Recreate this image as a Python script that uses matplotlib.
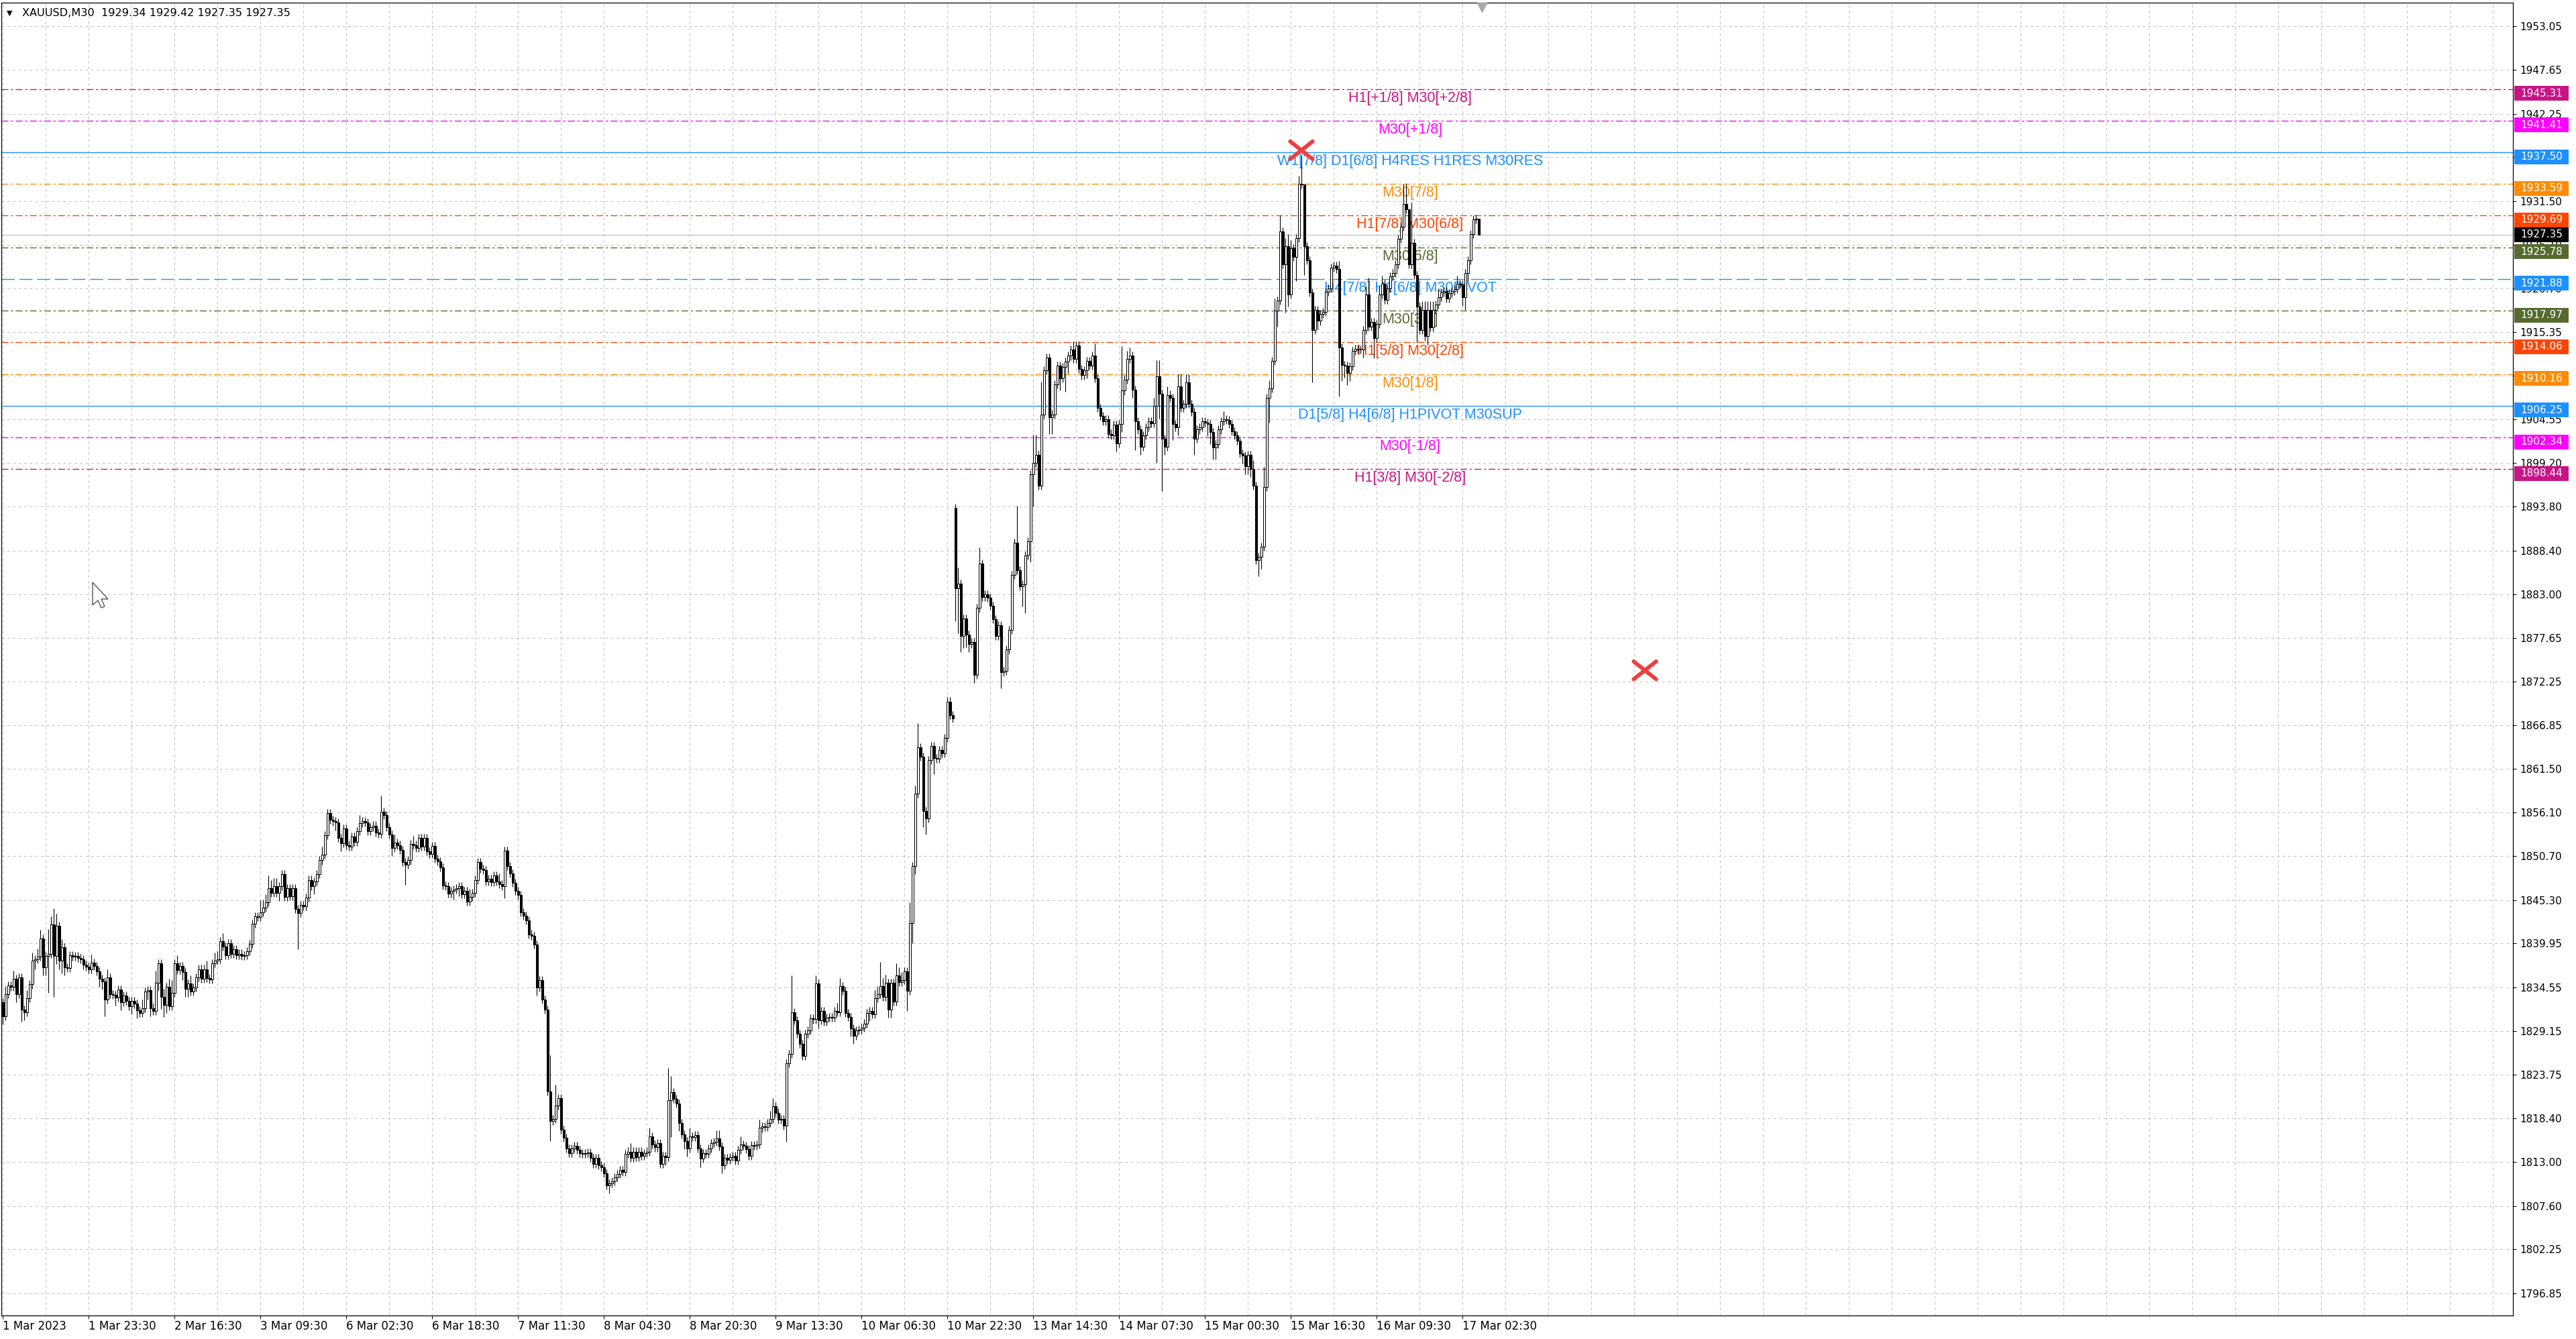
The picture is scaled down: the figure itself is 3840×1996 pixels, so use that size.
import matplotlib
matplotlib.use("Agg")
import matplotlib.pyplot as plt
from matplotlib.patches import Rectangle, Polygon
from matplotlib.transforms import blended_transform_factory
import numpy as np

plt.rcParams['lines.scale_dashes'] = False

# XAUUSD M30 closes
close_a = [
    1831.0, 1833.7, 1834.8, 1834.6, 1835.6, 1833.7, 1835.8, 1831.8, 1831.5, 1833.2,
    1834.9, 1837.8, 1838.0, 1838.3, 1840.6, 1837.0, 1838.4, 1838.7, 1842.3, 1838.4,
    1842.1, 1837.8, 1839.5, 1837.0, 1836.9, 1838.5, 1838.3, 1838.4, 1838.2, 1838.0,
    1837.3, 1837.1, 1836.8, 1837.6, 1837.2, 1836.5, 1835.6, 1835.3, 1833.0, 1835.8,
    1833.7, 1833.6, 1833.3, 1834.3, 1832.7, 1833.5, 1832.9, 1832.2, 1832.9, 1832.5,
    1831.7, 1831.4, 1832.0, 1834.0, 1834.2, 1832.0, 1831.6, 1835.1, 1837.5, 1833.4,
    1832.4, 1834.6, 1832.2, 1833.9, 1837.5, 1836.7, 1837.2, 1836.4, 1834.4, 1835.0,
    1834.0, 1834.5, 1835.8, 1836.8, 1835.6, 1836.8, 1835.7, 1835.5, 1837.5, 1837.8,
    1838.0, 1840.2, 1839.6, 1838.5, 1840.0, 1838.7, 1839.2, 1838.5, 1838.7, 1838.4,
    1838.5, 1839.0, 1839.9, 1842.4, 1843.3, 1843.2, 1843.8, 1844.4, 1845.0, 1846.8,
    1846.2, 1847.0, 1846.2, 1847.0, 1848.5, 1845.7, 1846.8, 1845.8, 1846.8, 1844.2,
    1843.7, 1844.7, 1844.5, 1845.6, 1847.8, 1847.0, 1847.6, 1848.5, 1850.2, 1850.9,
    1853.3, 1856.0, 1855.2, 1855.0, 1854.9, 1853.0, 1852.3, 1854.1, 1852.1, 1851.9,
    1853.1, 1852.5, 1853.8, 1854.8, 1855.0, 1854.9, 1853.8, 1854.3, 1854.5, 1853.6,
    1853.5, 1856.2, 1855.8, 1854.3, 1853.4, 1851.7, 1852.4, 1852.1, 1851.5, 1850.0,
    1849.7, 1850.2, 1852.2, 1852.1, 1851.7, 1853.0, 1851.9, 1853.0, 1851.3, 1851.0,
    1852.0, 1850.4, 1850.1, 1849.3, 1847.1, 1847.0, 1846.1, 1846.4, 1846.6, 1846.8,
    1847.0, 1846.0, 1846.4, 1845.1, 1845.7, 1846.2, 1847.8, 1850.0, 1849.2, 1849.0,
    1847.6, 1847.9, 1847.5, 1848.3, 1847.6, 1847.3, 1847.0, 1851.4, 1849.5, 1848.6,
    1847.4, 1846.4, 1845.9, 1843.8,
]
close_b = [
    1843.4, 1842.8, 1841.1, 1840.9, 1839.8, 1834.5, 1835.4, 1833.0, 1831.8, 1821.7,
    1818.1, 1818.3, 1820.0, 1820.9, 1817.0, 1816.0, 1814.7, 1814.1, 1814.7, 1815.0,
    1814.5, 1814.1, 1814.0, 1814.1, 1814.2, 1813.5, 1812.8, 1813.5, 1812.6, 1812.4,
    1811.6, 1810.1, 1810.4, 1810.6, 1811.1, 1811.5, 1812.0, 1811.8, 1814.0, 1814.3,
    1813.5, 1814.3, 1813.6, 1814.3, 1813.8, 1814.1, 1814.3, 1816.2, 1815.2, 1814.8,
    1815.3, 1812.8, 1813.8, 1813.6, 1820.6, 1821.6, 1820.8, 1820.2, 1817.8, 1816.4,
    1815.6, 1814.7, 1816.2, 1816.1, 1816.3, 1814.7, 1813.4, 1814.1, 1814.0, 1814.7,
    1815.3, 1815.5, 1815.9, 1814.9, 1812.6, 1813.5, 1813.3, 1813.6, 1813.8, 1813.2,
    1814.5, 1815.2, 1815.0, 1814.6, 1813.8, 1815.1, 1815.0, 1815.2, 1817.2, 1817.4,
    1817.3, 1817.8, 1818.3, 1819.9, 1819.1, 1818.2, 1818.3, 1817.5, 1825.2, 1826.3,
    1831.5, 1830.5, 1828.8, 1827.6, 1826.1, 1828.8, 1829.2, 1830.7, 1830.6, 1835.0,
    1830.5, 1831.6, 1830.3, 1830.8, 1830.9, 1830.8, 1831.6, 1831.5, 1834.7, 1834.1,
    1831.4, 1830.9, 1829.5, 1828.6, 1829.2, 1829.3, 1829.6, 1830.1, 1831.4, 1831.6,
    1831.2, 1833.2, 1833.7, 1834.7, 1833.4, 1835.1, 1831.8, 1835.1, 1832.8, 1836.0,
    1835.2, 1835.4, 1836.5, 1834.1, 1842.5, 1849.5, 1858.4, 1864.1, 1863.0, 1856.3,
    1855.4, 1862.6, 1864.3, 1862.8, 1862.7, 1863.8, 1863.4, 1865.3, 1869.8, 1868.1,
    1867.7,
]
close_c = [
    1883.7, 1884.3, 1877.9, 1880.0, 1878.0, 1876.9, 1877.1, 1873.1, 1881.3, 1886.8,
    1882.7, 1883.0, 1882.6, 1881.6, 1879.9, 1877.9, 1879.2, 1873.4, 1873.6, 1876.2,
    1878.6, 1885.4, 1889.4, 1886.0, 1884.0, 1884.2, 1887.8, 1889.5, 1897.8, 1899.2,
    1900.2, 1896.4, 1905.2, 1910.6, 1912.2, 1904.8, 1905.2, 1908.9, 1911.2, 1909.6,
    1911.0, 1911.7, 1912.4, 1913.2, 1912.0, 1913.7, 1910.8, 1910.0, 1910.6, 1911.8,
    1911.2, 1912.4, 1909.6, 1906.0, 1905.0, 1904.3, 1904.6, 1902.8, 1902.6, 1903.9,
    1901.6, 1904.0, 1908.1, 1909.5, 1912.0, 1912.4, 1908.2, 1904.3, 1903.3, 1901.2,
    1902.6, 1903.6, 1904.3, 1904.1, 1906.2, 1909.9, 1907.7, 1902.2, 1901.2, 1907.6,
    1907.2, 1904.0, 1903.6, 1908.6, 1906.0, 1906.5, 1909.1, 1906.5, 1905.5, 1902.2,
    1903.3, 1903.6, 1904.3, 1904.2, 1904.0, 1903.0, 1901.1, 1901.5, 1903.3, 1904.3,
    1904.6, 1904.5, 1904.0, 1903.1, 1902.6, 1901.9, 1900.4, 1900.1, 1898.8, 1900.2,
    1898.5, 1896.4, 1887.2, 1887.6, 1888.9, 1896.2, 1907.2, 1908.4, 1911.8, 1918.0,
]
close_d = [
    1919.2, 1927.7, 1923.7, 1925.9, 1920.0, 1925.7, 1924.6, 1926.9, 1933.6, 1933.5,
    1925.9, 1924.2, 1920.2, 1915.6, 1918.1, 1916.7, 1917.6, 1917.8, 1920.3, 1920.7,
    1923.3, 1923.5, 1923.1, 1913.4, 1911.3, 1911.2, 1910.3, 1911.1, 1913.0, 1913.3,
    1913.2, 1913.2, 1915.6, 1920.0, 1916.0, 1916.6, 1914.6, 1916.3, 1920.0, 1921.3,
    1919.3, 1920.7, 1922.2, 1922.6, 1923.7, 1926.8, 1928.3, 1931.1, 1930.5, 1923.7,
    1926.3, 1922.4, 1918.5, 1915.6, 1918.1, 1914.8, 1918.1, 1915.9, 1918.1, 1918.7,
    1919.6, 1920.2, 1920.4, 1919.5, 1920.1, 1920.4, 1920.6, 1921.3, 1921.2, 1919.6,
    1922.6, 1924.2, 1927.4, 1929.2, 1929.34, 1927.35,
]
first_open = 1832.7
gap_opens = {355: 1893.7}

# wick lengths above / below the body, one base-36 digit per bar, in $0.50 steps
up_wick = "".join([
    "1211211112", "1212211624", "3121111111", "1112111112", "1111111111",
    "1121111311", "2123121111", "2111112112", "2121111111", "1111113223",
    "2221111111", "1111111112", "1111111111", "1112111111", "1411112111",
    "1112111111", "1111111111", "1111211111", "1111121111", "1111111111",
    "1111915111", "1111111111", "1111111111", "1111211111", "1211111184",
    "1111112111", "1111112211", "1111121111", "1121112211", "1111911111",
    "1112111111", "1221111111", "1111122622", "1113221151", "2611111111",
    "1111114111", "1111411111", "1111111191", "1111751811", "1111111112",
    "1111111311", "1111111b12", "2111111112", "4411211133", "1221111111",
    "1111121111", "1111112111", "5121314123", "2112701111", "1111111121",
    "1111111124", "1112211111", "11550a1112", "2222121111", "1121111111",
    "0",
])
dn_wick = "".join([
    "2111121321", "112112291a", "2232111111", "1111112241", "1121211121",
    "2111221123", "3211111222", "1111111111", "1111111111", "1111111111",
    "1112111111", "9111112111", "1111212111", "1111111111", "1111121111",
    "5111111111", "1111111121", "2111111111", "1111111311", "1111111112",
    "1111511111", "1111111111", "1111112111", "1111111111", "1111111219",
    "1121221111", "2111111121", "1111111111", "1111111111", "1141111111",
    "1111211111", "1111112211", "1112111111", "2211111515", "2114411411",
    "111118b433", "2121111111", "1141111111", "5715811111", "4411316311",
    "1111211111", "1111121211", "1271211111", "e6d2114121", "1111411113",
    "3331111111", "1122221143", "11611411c3", "11611711d1", "21111111c4",
    "3321111211", "1511111111", "1111111911", "1211111111", "1111232111",
    "0",
])

date_labels = ["1 Mar 2023", "1 Mar 23:30", "2 Mar 16:30", "3 Mar 09:30", "6 Mar 02:30",
               "6 Mar 18:30", "7 Mar 11:30", "8 Mar 04:30", "8 Mar 20:30", "9 Mar 13:30",
               "10 Mar 06:30", "10 Mar 22:30", "13 Mar 14:30", "14 Mar 07:30", "15 Mar 00:30",
               "15 Mar 16:30", "16 Mar 09:30", "17 Mar 02:30"]
price_ticks = [1796.85, 1802.25, 1807.60, 1813.00, 1818.40, 1823.75, 1829.15, 1834.55,
               1839.95, 1845.30, 1850.70, 1856.10, 1861.50, 1866.85, 1872.25, 1877.65,
               1883.00, 1888.40, 1893.80, 1899.20, 1904.55, 1909.95, 1915.35, 1920.70,
               1926.10, 1931.50, 1936.90, 1942.25, 1947.65, 1953.05]

level_prices = [1945.31, 1941.41, 1937.50, 1933.59, 1929.69, 1925.78, 1921.88,
                1917.97, 1914.06, 1910.16, 1906.25, 1902.34, 1898.44]
level_names = ["H1[+1/8] M30[+2/8]", "M30[+1/8]", "W1[7/8] D1[6/8] H4RES H1RES M30RES",
               "M30[7/8]", "H1[7/8] M30[6/8]", "M30[5/8]", "H4[7/8] H1[6/8] M30PIVOT",
               "M30[3/8]", "H1[5/8] M30[2/8]", "M30[1/8]", "D1[5/8] H4[6/8] H1PIVOT M30SUP",
               "M30[-1/8]", "H1[3/8] M30[-2/8]"]
level_colors = ["#C71585", "#FF00FF", "#1E90FF", "#FF8C00", "#FF4500", "#556B2F", "#1E90FF",
                "#556B2F", "#FF4500", "#FF8C00", "#1E90FF", "#FF00FF", "#C71585"]
level_kinds = ["dd", "dd", "solid", "dd", "dd", "dd", "dash", "dd", "dd", "dd", "solid", "dd", "dd"]

last_price = 1927.35
cross_bars = [484, 612]
cross_prices = [1937.75, 1873.63]

# ---- build candles ----
closes = np.array(close_a + close_b + close_c + close_d)
n = len(closes)
assert len(up_wick) == n and len(dn_wick) == n, (n, len(up_wick), len(dn_wick))
opens = np.empty(n)
opens[0] = first_open
opens[1:] = closes[:-1]
for k, v in gap_opens.items():
    opens[k] = v
up = np.array([int(c, 36) for c in up_wick]) * 0.5
dn = np.array([int(c, 36) for c in dn_wick]) * 0.5
highs = np.maximum(opens, closes) + up
lows = np.minimum(opens, closes) - dn
xs = np.arange(n)

W, H = 3840, 1996
PX = 12.09  # pixels per dollar on the price axis
fig = plt.figure(figsize=(W / 100, H / 100), dpi=100)
fig.patch.set_facecolor("white")
ax = fig.add_axes([2 / W, (H - 1961) / H, 3744 / W, 1957 / H])
ax.set_xlim(-0.5, 935.5)
ax.set_ylim(1794.08, 1955.945)

grid_kw = dict(color="#C4C4C4", lw=0.75, ls=(0, (3, 3)), zorder=0.5)
for b in range(0, 936, 16):
    ax.axvline(b, **grid_kw)
for p in price_ticks:
    ax.axhline(p, **grid_kw)

styles = {"dd": (0, (7.2, 2.9, 2.2, 2.9)), "dash": (0, (14, 5)), "solid": "-"}
for p, name, col, kind in zip(level_prices, level_names, level_colors, level_kinds):
    ax.axhline(p, color=col, lw=1.0, ls=styles[kind], zorder=2)
    ax.text(524.5, p - 0.25, name, color=col, ha="center", va="top",
            fontsize=15.5, family=["Liberation Sans", "DejaVu Sans"], zorder=3)

ax.axhline(last_price, color="#C0C0C0", lw=0.9, zorder=1.8)

ax.vlines(xs, lows, highs, color="black", lw=0.8, zorder=4)
bull = closes >= opens
ax.bar(xs[bull], (closes - opens)[bull], bottom=opens[bull], width=0.75,
       facecolor="white", edgecolor="black", linewidth=0.75, zorder=5)
ax.bar(xs[~bull], (closes - opens)[~bull], bottom=opens[~bull], width=0.75,
       facecolor="black", edgecolor="black", linewidth=0.75, zorder=5)

for bx, py in zip(cross_bars, cross_prices):
    for s in (1, -1):
        ax.plot([bx - 4.2, bx + 4.2], [py + s * 1.1, py - s * 1.1], color="#EE3E3E",
                lw=4.2, solid_capstyle="round", zorder=8)

# axes styling
for sp in ax.spines.values():
    sp.set_color("black")
    sp.set_linewidth(0.9)
ax.yaxis.tick_right()
ax.set_yticks(price_ticks)
ax.set_yticklabels([f"{p:.2f}" for p in price_ticks])
ax.tick_params(axis="y", direction="out", length=3.6, width=0.75, pad=3.6,
               labelsize=11, colors="black")
ax.set_xticks(range(0, 32 * len(date_labels), 32))
ax.set_xticklabels(date_labels, ha="left")
ax.tick_params(axis="x", direction="out", length=3.6, width=0.75, pad=1.5, labelsize=12)

# price tags on the right: level tags sit a few pixels under their line
trans = blended_transform_factory(ax.transAxes, ax.transData)
tags = [(p, c, 6.5) for p, c in zip(level_prices, level_colors)] + [(last_price, "black", 0.0)]
for p, col, drop in tags:
    yc = p - drop / PX
    ax.add_patch(Rectangle((1 + 2 / 3744, yc - 11 / PX), 81 / 3744, 22 / PX,
                           transform=trans, clip_on=False, facecolor=col,
                           edgecolor="none", zorder=10))
    ax.text(1 + 11 / 3744, yc, f"{p:.2f}", transform=trans, color="white", va="center",
            ha="left", fontsize=11, clip_on=False, zorder=11)

# chart shift marker and header
ax.plot([551.25], [1 - 7 / 1957], marker="v", ms=10, color="#A8A8A8",
        transform=blended_transform_factory(ax.transData, ax.transAxes),
        clip_on=False, zorder=12)
fig.text(10 / W, 1 - 20 / H, "\u25BC", fontsize=8, va="center", color="black")
fig.text(33 / W, 1 - 20 / H, "XAUUSD,M30  1929.34 1929.42 1927.35 1927.35",
         fontsize=11.6, va="center", color="black")

# mouse pointer
cur = np.array([(0, 0), (0, 34), (8, 27), (13, 38), (18, 36), (13, 25), (23, 25)], float)
cur[:, 0] += 138
cur[:, 1] += 868
fig.add_artist(Polygon(np.column_stack([cur[:, 0] / W, 1 - cur[:, 1] / H]),
                       closed=True, facecolor="white", edgecolor="#555555",
                       lw=1.0, transform=fig.transFigure))

fig.savefig("out.png", dpi=100)
